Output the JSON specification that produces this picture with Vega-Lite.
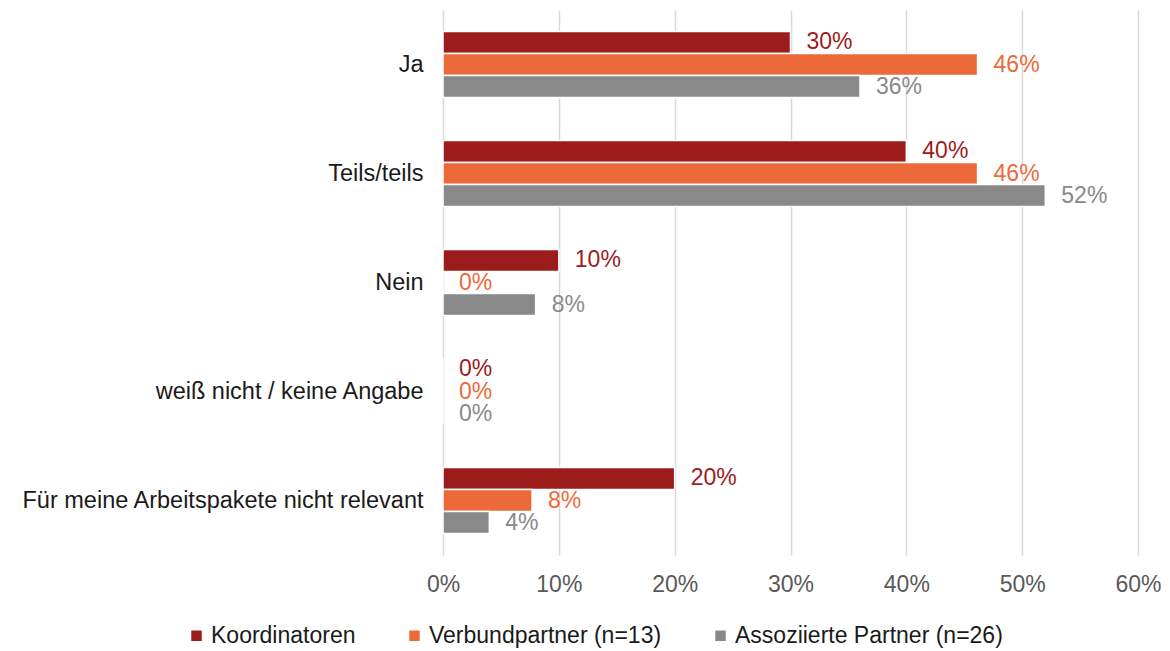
{
  "$schema": "https://vega.github.io/schema/vega-lite/v6.json",
  "width": 695,
  "height": 545,
  "autosize": {"type": "none"},
  "padding": {"left": 443, "top": 10, "right": 32, "bottom": 96},
  "background": "white",
  "config": {"view": {"stroke": null}, "font": "Liberation Sans"},
  "data": {
    "values": [
      {"answer": "Ja", "group": "Koordinatoren", "value": 0.30},
      {"answer": "Ja", "group": "Verbundpartner (n=13)", "value": 0.4615},
      {"answer": "Ja", "group": "Assoziierte Partner (n=26)", "value": 0.36},
      {"answer": "Teils/teils", "group": "Koordinatoren", "value": 0.40},
      {"answer": "Teils/teils", "group": "Verbundpartner (n=13)", "value": 0.4615},
      {"answer": "Teils/teils", "group": "Assoziierte Partner (n=26)", "value": 0.52},
      {"answer": "Nein", "group": "Koordinatoren", "value": 0.10},
      {"answer": "Nein", "group": "Verbundpartner (n=13)", "value": 0},
      {"answer": "Nein", "group": "Assoziierte Partner (n=26)", "value": 0.08},
      {"answer": "weiß nicht / keine Angabe", "group": "Koordinatoren", "value": 0},
      {"answer": "weiß nicht / keine Angabe", "group": "Verbundpartner (n=13)", "value": 0},
      {"answer": "weiß nicht / keine Angabe", "group": "Assoziierte Partner (n=26)", "value": 0},
      {"answer": "Für meine Arbeitspakete nicht relevant", "group": "Koordinatoren", "value": 0.20},
      {"answer": "Für meine Arbeitspakete nicht relevant", "group": "Verbundpartner (n=13)", "value": 0.0769},
      {"answer": "Für meine Arbeitspakete nicht relevant", "group": "Assoziierte Partner (n=26)", "value": 0.04}
    ]
  },
  "encoding": {
    "y": {
      "field": "answer",
      "type": "nominal",
      "sort": ["Ja", "Teils/teils", "Nein", "weiß nicht / keine Angabe", "Für meine Arbeitspakete nicht relevant"],
      "scale": {"paddingInner": 0.394, "paddingOuter": 0.197},
      "axis": {
        "title": null,
        "domain": false,
        "ticks": false,
        "labelFontSize": 23.5,
        "labelColor": "#1a1a1a",
        "labelPadding": 20,
        "labelLimit": 600
      }
    },
    "yOffset": {
      "field": "group",
      "type": "nominal",
      "sort": ["Koordinatoren", "Verbundpartner (n=13)", "Assoziierte Partner (n=26)"],
      "scale": {"paddingInner": 0, "paddingOuter": 0}
    },
    "x": {
      "field": "value",
      "type": "quantitative",
      "scale": {"domain": [0, 0.6]},
      "axis": {
        "title": null,
        "format": ".0%",
        "values": [0, 0.1, 0.2, 0.3, 0.4, 0.5, 0.6],
        "domain": false,
        "ticks": false,
        "grid": true,
        "gridColor": "#D9D9D9",
        "gridWidth": 1.5,
        "labelFlush": false,
        "labelFontSize": 23,
        "labelColor": "#595959",
        "labelPadding": 18
      }
    },
    "color": {
      "field": "group",
      "type": "nominal",
      "sort": ["Koordinatoren", "Verbundpartner (n=13)", "Assoziierte Partner (n=26)"],
      "scale": {
        "domain": ["Koordinatoren", "Verbundpartner (n=13)", "Assoziierte Partner (n=26)"],
        "range": ["#9C1C1C", "#EC6A3A", "#898989"]
      },
      "legend": {
        "title": null,
        "orient": "none",
        "direction": "horizontal",
        "legendX": -258,
        "legendY": 614,
        "symbolType": "square",
        "symbolSize": 110,
        "symbolStrokeWidth": 0,
        "labelFontSize": 23,
        "labelColor": "#1a1a1a",
        "labelOffset": 3,
        "columnPadding": 47,
        "labelLimit": 400
      }
    }
  },
  "layer": [
    {"mark": {"type": "bar", "stroke": "white", "strokeWidth": 1.5}},
    {
      "mark": {"type": "text", "align": "left", "baseline": "middle", "dx": 16, "fontSize": 23},
      "encoding": {
        "text": {"field": "value", "type": "quantitative", "format": ".0%"},
        "color": {
          "field": "group",
          "type": "nominal",
          "legend": null,
          "scale": {
            "domain": ["Koordinatoren", "Verbundpartner (n=13)", "Assoziierte Partner (n=26)"],
            "range": ["#9C1C1C", "#EC6A3A", "#898989"]
          }
        }
      }
    }
  ]
}
